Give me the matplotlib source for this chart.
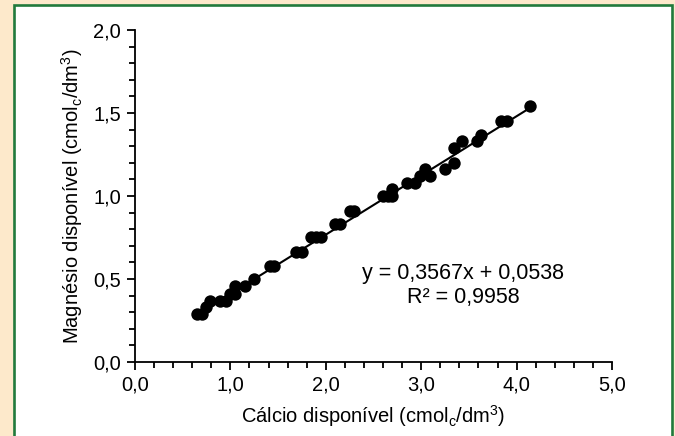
import matplotlib
matplotlib.use("Agg")
import matplotlib.pyplot as plt
from matplotlib.patches import Rectangle
from matplotlib.ticker import MultipleLocator, FuncFormatter
import numpy as np

# dados
calcio = [0.65, 0.70, 0.74, 0.79, 0.89, 0.95, 1.00, 1.05, 1.05, 1.15,
          1.25, 1.41, 1.46, 1.69, 1.75, 1.85, 1.90, 1.95, 2.10, 2.15,
          2.25, 2.30, 2.60, 2.65, 2.69, 2.69, 2.85, 2.94, 2.99, 3.04,
          3.09, 3.25, 3.34, 3.34, 3.43, 3.58, 3.63, 3.84, 3.90, 4.14]
magnesio = [0.29, 0.29, 0.33, 0.37, 0.37, 0.37, 0.41, 0.41, 0.46, 0.46,
            0.50, 0.58, 0.58, 0.66, 0.66, 0.75, 0.75, 0.75, 0.83, 0.83,
            0.91, 0.91, 1.00, 1.00, 1.00, 1.04, 1.08, 1.08, 1.12, 1.16,
            1.12, 1.16, 1.20, 1.29, 1.33, 1.33, 1.37, 1.45, 1.45, 1.54]
coef_a = 0.3567
coef_b = 0.0538
r2 = 0.9958

plt.rcParams['font.family'] = ['Liberation Sans', 'DejaVu Sans']
plt.rcParams['mathtext.fontset'] = 'custom'
plt.rcParams['mathtext.rm'] = 'Liberation Sans'

fig = plt.figure(figsize=(6.75, 4.36), dpi=100)
fig.patch.set_facecolor('#fde9cb')

# moldura verde
frame = Rectangle((13.8 / 675, -0.02), (672 - 13.8) / 675, 1.02 - 4.8 / 436,
                  transform=fig.transFigure, facecolor='white',
                  edgecolor='#217a3c', linewidth=1.9, zorder=-5)
fig.patches.append(frame)

ax = fig.add_axes([135 / 675, 74 / 436, 477 / 675, 332 / 436])
ax.set_facecolor('none')

xs = np.array([min(calcio), max(calcio)])
ax.plot(xs, coef_a * xs + coef_b, color='black', linewidth=1.5, zorder=2)
ax.scatter(calcio, magnesio, s=80, color='black', zorder=3, linewidths=0)

ax.set_xlim(0, 5)
ax.set_ylim(0, 2)
ax.xaxis.set_major_locator(MultipleLocator(1))
ax.xaxis.set_minor_locator(MultipleLocator(0.2))
ax.yaxis.set_major_locator(MultipleLocator(0.5))
ax.yaxis.set_minor_locator(MultipleLocator(0.1))
fmt = FuncFormatter(lambda v, p: f"{v:.1f}".replace('.', ','))
ax.xaxis.set_major_formatter(fmt)
ax.yaxis.set_major_formatter(fmt)

for s in ['top', 'right']:
    ax.spines[s].set_visible(False)
for s in ['left', 'bottom']:
    ax.spines[s].set_linewidth(1.3)
ax.tick_params(which='both', direction='out', width=1.3, color='black')
ax.tick_params(which='major', length=6, labelsize=14.5, pad=4)
ax.tick_params(which='minor', length=4)

ax.set_xlabel(r'Cálcio disponível (cmol$_\mathrm{c}$/dm$^\mathrm{3}$)', fontsize=14.5, labelpad=6)
ax.set_ylabel(r'Magnésio disponível (cmol$_\mathrm{c}$/dm$^\mathrm{3}$)', fontsize=14.5, labelpad=6)

ax.text(3.44, 0.535, f"y = {coef_a:.4f}x + {coef_b:.4f}".replace('.', ','),
        ha='center', va='center', fontsize=15.5)
ax.text(3.44, 0.39, f"R² = {r2:.4f}".replace('.', ','),
        ha='center', va='center', fontsize=15.5)

fig.savefig('out.png', dpi=100)
